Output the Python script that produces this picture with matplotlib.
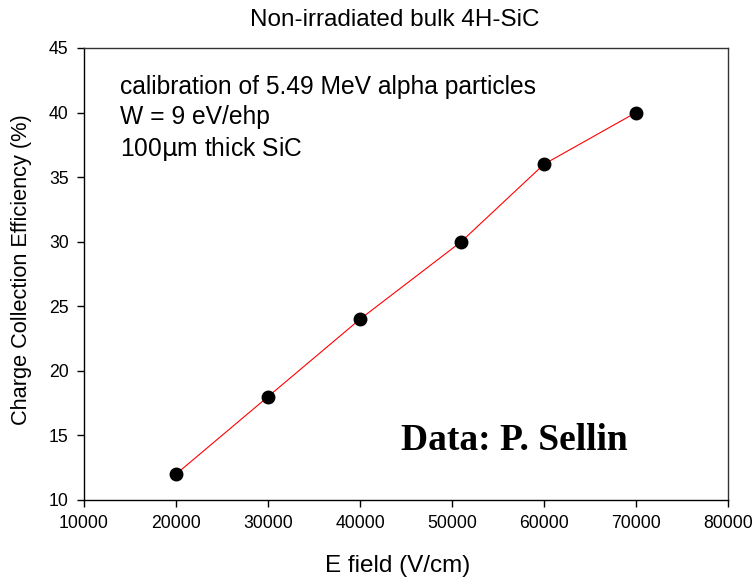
import matplotlib
matplotlib.use("Agg")
import matplotlib.pyplot as plt

e_field = [20000, 30000, 40000, 51000, 60000, 70000]
cce = [12, 18, 24, 30, 36, 40]
x_ticks = [10000, 20000, 30000, 40000, 50000, 60000, 70000, 80000]
y_ticks = [10, 15, 20, 25, 30, 35, 40, 45]

plt.rcParams['font.family'] = ['Liberation Sans', 'DejaVu Sans']

fig = plt.figure(figsize=(7.53, 5.8), dpi=100)
W, H = 753, 580
ax = fig.add_axes([84 / W, 1 - 500 / H, (728 - 84) / W, (500 - 48) / H])

ax.plot(e_field, cce, color='red', lw=0.8, marker='o', ms=9,
        mfc='black', mec='black', zorder=3)

ax.set_xlim(10000, 80000)
ax.set_ylim(10, 45)
ax.set_xticks(x_ticks)
ax.set_yticks(y_ticks)
ax.tick_params(direction='out', length=5, width=1, labelsize=12.7, pad=6,
               top=False, right=False, colors='black')
for s in ax.spines.values():
    s.set_linewidth(1)
    s.set_color('#333333')
ax.spines['left'].set_color('black')
ax.spines['bottom'].set_color('black')

ax.set_xlabel('E field (V/cm)', fontsize=17.5)
ax.xaxis.set_label_coords(398 / W, 1 - 566 / H, transform=fig.transFigure)
ax.xaxis.label.set_va('center')
ax.set_ylabel('Charge Collection Efficiency (%)', fontsize=15.7)
ax.yaxis.set_label_coords(22 / W, 1 - 270 / H, transform=fig.transFigure)
ax.yaxis.label.set_va('center')
fig.text(395 / W, 1 - 20 / H, 'Non-irradiated bulk 4H-SiC', ha='center', va='center', fontsize=17.5)

ax.text(120 / W, 1 - 75 / H, 'calibration of 5.49 MeV alpha particles\nW = 9 eV/ehp\n100$\\mathrm{\\mu}$m thick SiC',
        transform=fig.transFigure, ha='left', va='top', fontsize=17.7, linespacing=1.3)

ax.text(401 / W, 1 - 440 / H, 'Data: P. Sellin', transform=fig.transFigure, ha='left', va='center',
        fontsize=27, fontweight='bold', family=['Liberation Serif', 'DejaVu Serif'])

fig.savefig('out.png', dpi=100)
